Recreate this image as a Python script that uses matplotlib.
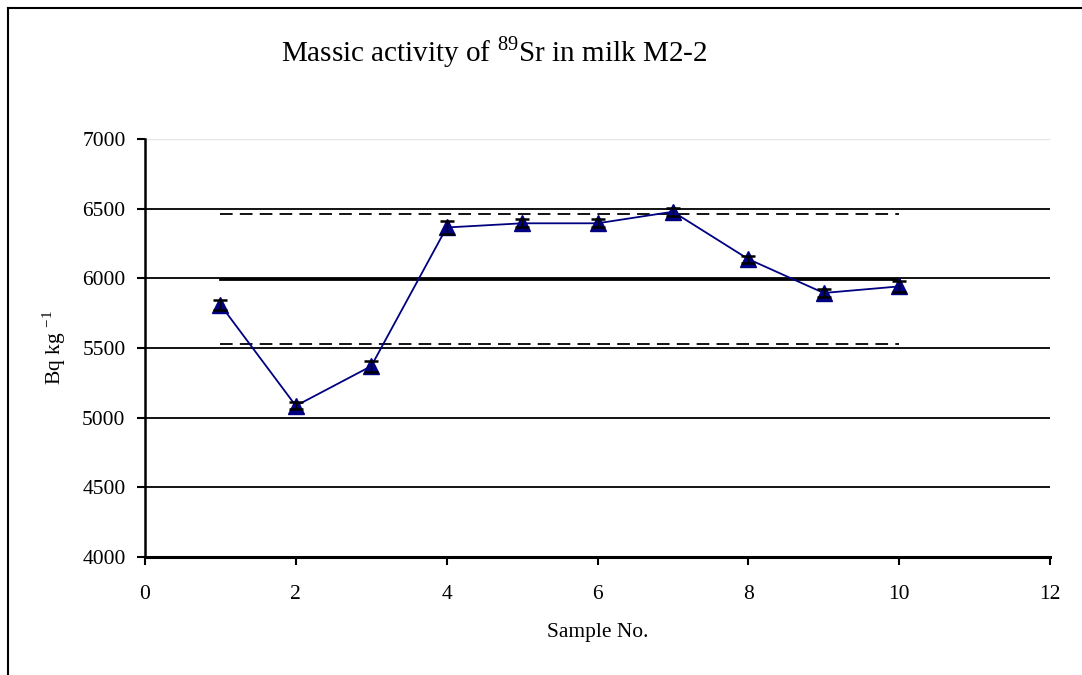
import matplotlib
matplotlib.use("Agg")
import matplotlib.pyplot as plt
from matplotlib.lines import Line2D

# data
samples = [1, 2, 3, 4, 5, 6, 7, 8, 9, 10]
activity = [5810, 5085, 5370, 6365, 6395, 6395, 6478, 6138, 5895, 5942]
uncert = [35, 25, 40, 50, 30, 30, 30, 25, 30, 40]
ref_value = 5995
ref_upper = 6462
ref_lower = 5528
ref_span = [1, 10]

plt.rcParams['font.family'] = ['Liberation Serif', 'DejaVu Serif']
plt.rcParams['mathtext.fontset'] = 'custom'
plt.rcParams['mathtext.rm'] = 'Liberation Serif'

fig = plt.figure(figsize=(10.82, 6.75), dpi=100)
ax = fig.add_axes([145/1082, 1-557/675, (1050-145)/1082, (557-139)/675])

# gridlines
for yv in [4500, 5000, 5500, 6000, 6500]:
    ax.axhline(yv, color='black', lw=1.3, zorder=1)
ax.axhline(7000, color='#e6e6e6', lw=1.0, zorder=1)

# reference value and limits
ax.plot(ref_span, [ref_value, ref_value], color='black', lw=2.0, zorder=2)
ax.plot(ref_span, [ref_upper, ref_upper], color='black', lw=1.3, ls=(0, (7, 4)), zorder=2)
ax.plot(ref_span, [ref_lower, ref_lower], color='black', lw=1.3, ls=(0, (7, 4)), zorder=2)

ax.plot(samples, activity, color='#000080', lw=1.3, marker='^', ms=11,
        markerfacecolor='#000080', markeredgecolor='#000080', zorder=3)
ax.errorbar(samples, activity, yerr=uncert, fmt='none', ecolor='black',
            elinewidth=1.0, capsize=5, capthick=1.8, zorder=4)

ax.set_xlim(0, 12)
ax.set_ylim(4000, 7000)
ax.set_xticks(range(0, 13, 2))
ax.set_yticks(range(4000, 7001, 500))

for s in ['top', 'right']:
    ax.spines[s].set_visible(False)
ax.spines['left'].set_linewidth(1.8)
ax.spines['bottom'].set_linewidth(2.2)
ax.tick_params(axis='both', direction='out', length=6, width=1.5, labelsize=15.5, colors='black')
ax.tick_params(axis='x', pad=14)
ax.tick_params(axis='y', pad=8)

ax.set_xlabel('Sample No.', fontsize=15.5, labelpad=14)
ax.set_ylabel('Bq kg $^{-1}$', fontsize=15.5, labelpad=10)

fig.text(494/1082, 1-52/675, 'Massic activity of $^{89}$Sr in milk M2-2',
         ha='center', va='center', fontsize=21)

# outer chart frame
fig.add_artist(Line2D([8/1082, 8/1082], [0, 1-8/675], color='black', lw=1.5, transform=fig.transFigure))
fig.add_artist(Line2D([8/1082, 1], [1-8/675, 1-8/675], color='black', lw=1.5, transform=fig.transFigure))

fig.savefig('out.png', dpi=100)
